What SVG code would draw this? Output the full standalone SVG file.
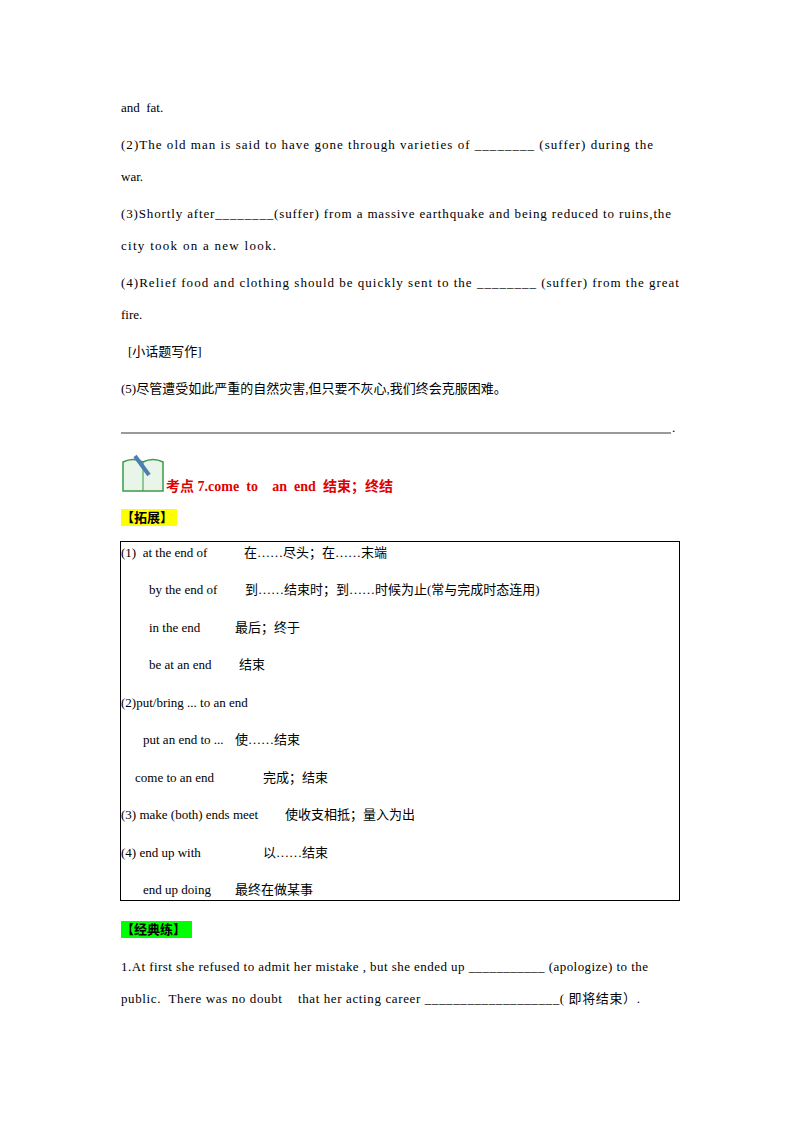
<svg xmlns="http://www.w3.org/2000/svg" width="800" height="1132" viewBox="0 0 800 1132">
<style>
text{font-family:"Liberation Serif","Noto Sans CJK SC",serif;font-size:13px;fill:#000;white-space:pre}
.h{font-weight:bold}
.r{fill:#e00000;font-weight:bold;font-size:14px}
</style>
<rect width="800" height="1132" fill="#fff"/>
<text x="121" y="112">and  fat.</text>
<text x="121" y="149" textLength="532" lengthAdjust="spacing">(2)The old man is said to have gone through varieties of ________ (suffer) during the</text>
<text x="121" y="181">war.</text>
<text x="121" y="218" textLength="550" lengthAdjust="spacing">(3)Shortly after________(suffer) from a massive earthquake and being reduced to ruins,the</text>
<text x="121" y="250" textLength="155" lengthAdjust="spacing">city took on a new look.</text>
<text x="121" y="287" textLength="558" lengthAdjust="spacing">(4)Relief food and clothing should be quickly sent to the ________ (suffer) from the great</text>
<text x="121" y="319">fire.</text>
<text x="128" y="356">[小话题写作]</text>
<text x="121" y="393">(5)尽管遭受如此严重的自然灾害,但只要不灰心,我们终会克服困难。</text>
<line x1="121" y1="433" x2="671" y2="433" stroke="#000" stroke-width="0.8"/>
<text x="672" y="432">.</text>
<g id="icon">
<path d="M123 462 Q133 457 143 462 Q153 457 163 462 L163 491 L123 491 Z" fill="#e8f5e8" stroke="#3a9a4a" stroke-width="1.5"/>
<line x1="143" y1="462" x2="143" y2="491" stroke="#3a9a4a"/>
<line x1="135" y1="456" x2="149" y2="475" stroke="#4a7fb0" stroke-width="4"/>
</g>
<text x="166" y="491" class="r" textLength="227" lengthAdjust="spacing">考点 7.come  to    an  end  结束；终结</text>
<rect x="121" y="509" width="56" height="17" fill="#ffff00"/>
<text x="121" y="522" class="h">【拓展】</text>
<g id="table">
<rect x="120.5" y="541.5" width="559" height="359" fill="none" stroke="#000" stroke-width="1"/>
<text x="121" y="557">(1)  at the end of</text><text x="244" y="557">在……尽头；在……末端</text>
<text x="149" y="594">by the end of</text><text x="245" y="594">到……结束时；到……时候为止(常与完成时态连用)</text>
<text x="149" y="632">in the end</text><text x="235" y="632">最后；终于</text>
<text x="149" y="669">be at an end</text><text x="239" y="669">结束</text>
<text x="121" y="707">(2)put/bring ... to an end</text>
<text x="143" y="744">put an end to ...</text><text x="235" y="744">使……结束</text>
<text x="135" y="782">come to an end</text><text x="263" y="782">完成；结束</text>
<text x="121" y="819">(3) make (both) ends meet</text><text x="285" y="819">使收支相抵；量入为出</text>
<text x="121" y="857">(4) end up with</text><text x="263" y="857">以……结束</text>
<text x="143" y="894">end up doing</text><text x="235" y="894">最终在做某事</text>
</g>
<rect x="121" y="921" width="71" height="17" fill="#00ff00"/>
<text x="121" y="934" class="h">【经典练】</text>
<text x="121" y="971" textLength="527" lengthAdjust="spacing">1.At first she refused to admit her mistake , but she ended up ___________ (apologize) to the</text>
<text x="121" y="1003" textLength="519" lengthAdjust="spacing">public.  There was no doubt    that her acting career ___________________( 即将结束）.</text>
</svg>
